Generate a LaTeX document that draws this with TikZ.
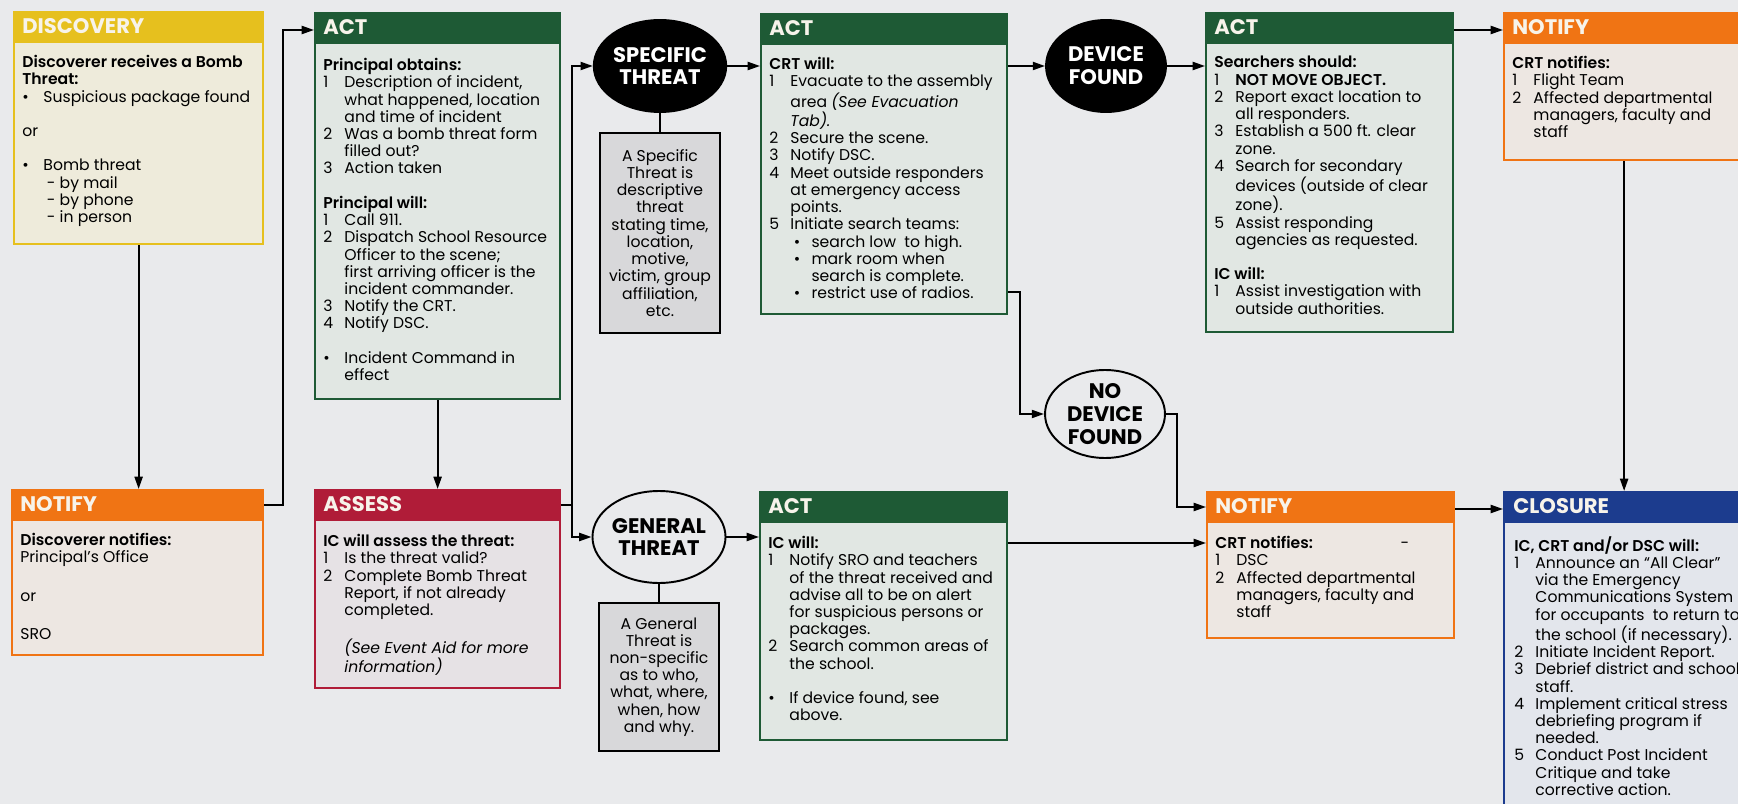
\documentclass[tikz,border=0pt]{standalone}
\usepackage{fontspec}
\setmainfont{Poppins}[BoldFont={Poppins SemiBold}, BoldItalicFont={Poppins SemiBold Italic}]
\newfontfamily\headfont{Poppins}
\usepackage{xcolor}
\usepackage{tikz}
\usetikzlibrary{positioning,shapes.geometric,arrows.meta}

\definecolor{bg}{HTML}{E9EAEC}
\definecolor{headtxt}{HTML}{F7F3EA}
\definecolor{discgold}{HTML}{E6C01E}
\definecolor{discbody}{HTML}{EEEBDB}
\definecolor{notifyorange}{HTML}{F07414}
\definecolor{notifybody}{HTML}{EDE7E2}
\definecolor{actgreen}{HTML}{1E5A35}
\definecolor{actbody}{HTML}{E1E7E3}
\definecolor{assessred}{HTML}{B01C38}
\definecolor{assessbody}{HTML}{E6E2E5}
\definecolor{closureblue}{HTML}{1C3C8E}
\definecolor{closurebody}{HTML}{E3E6EC}
\definecolor{notefill}{HTML}{D8D8DA}

\newcommand\itm[1]{\makebox[12pt][l]{#1}}
\newcommand\cnt{\hspace*{12pt}}

\begin{document}
\begin{tikzpicture}[x=0.02cm, y=-0.02cm,
  panel/.style 2 args={draw=#1, fill=#2, line width=1.3pt, anchor=north west, inner sep=0pt,
    path picture={\fill[#1] (path picture bounding box.north west) rectangle ([yshift=-0.62cm]path picture bounding box.north east);}},
  head/.style={anchor=west, inner sep=0pt, text=headtxt, font=\headfont\fontsize{12}{13}\selectfont\bfseries},
  body/.style={anchor=north west, inner sep=0pt, align=left, font=\fontsize{8.9}{9.8}\selectfont},
  threat/.style={ellipse, draw, line width=1.1pt, minimum width=2.4cm, minimum height=1.84cm,
    inner sep=0pt, align=center, font=\headfont\fontsize{12}{13}\selectfont\bfseries},
  note/.style={draw, fill=notefill, line width=1.1pt, minimum width=2.4cm, inner sep=0pt,
    align=center, font=\fontsize{8.9}{9.8}\selectfont},
  arr/.style={-{Triangle[length=7pt,width=4.6pt]}, line width=1.1pt},
  link/.style={line width=1.1pt}
]
  \useasboundingbox (0,0) rectangle (1738,804);
  \clip (0,0) rectangle (1738,804);
  \fill[bg] (0,0) rectangle (1738,804);

  % Discovery
  \node[panel={discgold}{discbody}, minimum width=4.98cm, minimum height=4.64cm] (disc) at (13,11) {};
  \node[head] (disc-h) at ([xshift=0.18cm, yshift=-0.31cm]disc.north west) {DISCOVERY};
  \node[body] (disc-t) at ([xshift=0.18cm, yshift=-0.88cm]disc.north west) {
    \textbf{Discoverer receives a Bomb}\\
    \textbf{Threat:}\\
    \itm{\textbullet}Suspicious package found\\[9.8pt]
    or\\[9.8pt]
    \itm{\textbullet}Bomb threat\\
    \cnt\hspace*{2pt}- by mail\\
    \cnt\hspace*{2pt}- by phone\\
    \cnt\hspace*{2pt}- in person};

  % Notify (discoverer)
  \node[panel={notifyorange}{notifybody}, minimum width=5.02cm, minimum height=3.3cm] (notif1) at (11,489) {};
  \node[head] (notif1-h) at ([xshift=0.18cm, yshift=-0.31cm]notif1.north west) {NOTIFY};
  \node[body] (notif1-t) at ([xshift=0.18cm, yshift=-0.88cm]notif1.north west) {
    \textbf{Discoverer notifies:}\\
    Principal’s Office\\[12pt]
    or\\[12pt]
    SRO};

  % Act (principal)
  \node[panel={actgreen}{actbody}, minimum width=4.9cm, minimum height=7.72cm] (act1) at (314,12) {};
  \node[head] (act1-h) at ([xshift=0.18cm, yshift=-0.31cm]act1.north west) {ACT};
  \node[body] (act1-t) at ([xshift=0.18cm, yshift=-0.92cm]act1.north west) {
    \textbf{Principal obtains:}\\
    \itm{1}Description of incident,\\
    \cnt what happened, location\\
    \cnt and time of incident\\
    \itm{2}Was a bomb threat form\\
    \cnt filled out?\\
    \itm{3}Action taken\\[9.8pt]
    \textbf{Principal will:}\\
    \itm{1}Call 911.\\
    \itm{2}Dispatch School Resource\\
    \cnt Officer to the scene;\\
    \cnt first arriving officer is the\\
    \cnt incident commander.\\
    \itm{3}Notify the CRT.\\
    \itm{4}Notify DSC.\\[9.8pt]
    \itm{\textbullet}Incident Command in\\
    \cnt effect};

  % Assess
  \node[panel={assessred}{assessbody}, minimum width=4.9cm, minimum height=3.96cm] (assess) at (314,489) {};
  \node[head] (assess-h) at ([xshift=0.18cm, yshift=-0.31cm]assess.north west) {ASSESS};
  \node[body] (assess-t) at ([xshift=0.18cm, yshift=-0.9cm]assess.north west) {
    \textbf{IC will assess the threat:}\\
    \itm{1}Is the threat valid?\\
    \itm{2}Complete Bomb Threat\\
    \cnt Report, if not already\\
    \cnt completed.\\[9.8pt]
    \cnt\textit{(See Event Aid for more}\\
    \cnt\textit{information)}};

  % Threat types
  \node[threat, fill=black, text=white] (spec) at (660,66) {SPECIFIC\\THREAT};
  \node[note, minimum height=4cm, below=0.38cm of spec] (specnote) {A Specific\\Threat is\\descriptive\\threat\\stating time,\\location,\\motive,\\victim, group\\affiliation,\\etc.};
  \node[threat, fill=bg] (gen) at (659,537) {GENERAL\\THREAT};
  \node[note, minimum height=2.96cm, below=0.36cm of gen] (gennote) {A General\\Threat is\\non-specific\\as to who,\\what, where,\\when, how\\and why.};

  % Act (CRT)
  \node[panel={actgreen}{actbody}, minimum width=4.92cm, minimum height=6cm] (act2) at (760,13) {};
  \node[head] (act2-h) at ([xshift=0.18cm, yshift=-0.31cm]act2.north west) {ACT};
  \node[body] (act2-t) at ([xshift=0.18cm, yshift=-0.88cm]act2.north west) {
    \textbf{CRT will:}\\
    \itm{1}Evacuate to the assembly\\
    \cnt area \textit{(See Evacuation}\\
    \cnt\textit{Tab).}\\
    \itm{2}Secure the scene.\\
    \itm{3}Notify DSC.\\
    \itm{4}Meet outside responders\\
    \cnt at emergency access\\
    \cnt points.\\
    \itm{5}Initiate search teams:\\
    \cnt\itm{\hspace*{2pt}\textbullet}search low\ \ to high.\\
    \cnt\itm{\hspace*{2pt}\textbullet}mark room when\\
    \cnt\cnt search is complete.\\
    \cnt\itm{\hspace*{2pt}\textbullet}restrict use of radios.};

  % Act (IC)
  \node[panel={actgreen}{actbody}, minimum width=4.94cm, minimum height=4.96cm] (act4) at (759,491) {};
  \node[head] (act4-h) at ([xshift=0.18cm, yshift=-0.31cm]act4.north west) {ACT};
  \node[body] (act4-t) at ([xshift=0.18cm, yshift=-0.9cm]act4.north west) {
    \textbf{IC will:}\\
    \itm{1}Notify SRO and teachers\\
    \cnt of the threat received and\\
    \cnt advise all to be on alert\\
    \cnt for suspicious persons or\\
    \cnt packages.\\
    \itm{2}Search common areas of\\
    \cnt the school.\\[9.8pt]
    \itm{\textbullet}If device found, see\\
    \cnt above.};

  % Device found / not found
  \node[threat, fill=black, text=white] (dev) at (1106,66) {DEVICE\\FOUND};
  \node[threat, fill=bg, minimum height=1.76cm] (nodev) at (1105,414) {NO\\DEVICE\\FOUND};

  % Act (searchers)
  \node[panel={actgreen}{actbody}, minimum width=4.94cm, minimum height=6.38cm] (act3) at (1205,12) {};
  \node[head] (act3-h) at ([xshift=0.18cm, yshift=-0.31cm]act3.north west) {ACT};
  \node[body] (act3-t) at ([xshift=0.18cm, yshift=-0.88cm]act3.north west) {
    \textbf{Searchers should:}\\
    \itm{1}\textbf{NOT MOVE OBJECT.}\\
    \itm{2}Report exact location to\\
    \cnt all responders.\\
    \itm{3}Establish a 500 ft. clear\\
    \cnt zone.\\
    \itm{4}Search for secondary\\
    \cnt devices (outside of clear\\
    \cnt zone).\\
    \itm{5}Assist responding\\
    \cnt agencies as requested.\\[9.8pt]
    \textbf{IC will:}\\
    \itm{1}Assist investigation with\\
    \cnt outside authorities.};

  % Notify (CRT)
  \node[panel={notifyorange}{notifybody}, minimum width=4.94cm, minimum height=2.92cm] (notif2) at (1206,491) {};
  \node[head] (notif2-h) at ([xshift=0.18cm, yshift=-0.31cm]notif2.north west) {NOTIFY};
  \node[body] (notif2-t) at ([xshift=0.18cm, yshift=-0.9cm]notif2.north west) {
    \textbf{CRT notifies:}\hspace{50pt}-\\
    \itm{1}DSC\\
    \itm{2}Affected departmental\\
    \cnt managers, faculty and\\
    \cnt staff};

  \node[panel={notifyorange}{notifybody}, minimum width=4.8cm, minimum height=2.94cm] (notif3) at (1503,12) {};
  \node[head] (notif3-h) at ([xshift=0.18cm, yshift=-0.31cm]notif3.north west) {NOTIFY};
  \node[body] (notif3-t) at ([xshift=0.18cm, yshift=-0.88cm]notif3.north west) {
    \textbf{CRT notifies:}\\
    \itm{1}Flight Team\\
    \itm{2}Affected departmental\\
    \cnt managers, faculty and\\
    \cnt staff};

  % Closure
  \node[panel={closureblue}{closurebody}, minimum width=4.8cm, minimum height=7cm] (closure) at (1503,491) {};
  \node[head] (closure-h) at ([xshift=0.2cm, yshift=-0.31cm]closure.north west) {CLOSURE};
  \node[body] (closure-t) at ([xshift=0.22cm, yshift=-0.9cm]closure.north west) {
    \textbf{IC, CRT and/or DSC will:}\\
    \itm{1}Announce an “All Clear”\\
    \cnt via the Emergency\\
    \cnt Communications System\\
    \cnt for occupants\ \ to return to\\
    \cnt the school (if necessary).\\
    \itm{2}Initiate Incident Report.\\
    \itm{3}Debrief district and school\\
    \cnt staff.\\
    \itm{4}Implement critical stress\\
    \cnt debriefing program if\\
    \cnt needed.\\
    \itm{5}Conduct Post Incident\\
    \cnt Critique and take\\
    \cnt corrective action.};

  % Connectors
  \draw[arr] (disc.south) -- (disc.south |- notif1.north);
  \draw[arr] ([yshift=-0.32cm]notif1.north east) -- ++(0.38cm,0) |- ([yshift=-0.36cm]act1.north west);
  \draw[arr] (act1.south) -- (assess.north);
  \coordinate (split) at (572,505);
  \draw[link] ([yshift=-0.32cm]assess.north east) -- (split);
  \draw[arr] (split) |- (spec.west);
  \draw[arr] (split) |- (gen.west);
  \draw[link] (spec.south) -- (specnote.north);
  \draw[link] (gen.south) -- (gennote.north);
  \draw[arr] (spec.east) -- (spec.east -| act2.west);
  \draw[arr] (gen.east) -- (gen.east -| act4.west);
  \draw[arr] (act2.east |- dev.west) -- (dev.west);
  \draw[arr] (dev.east) -- (dev.east -| act3.west);
  \draw[arr] ([yshift=-0.36cm]act3.north east) -- ([yshift=-0.36cm]notif3.north west);
  \draw[arr] ([yshift=0.46cm]act2.south east) -- ++(0.24cm,0) |- (nodev.west);
  \draw[arr] (nodev.east) -- ++(0.22cm,0) |- ([yshift=-0.32cm]notif2.north west);
  \draw[arr] ([yshift=-1.04cm]act4.north east) -- ([yshift=-1.04cm]notif2.north west);
  \draw[arr] ([yshift=-0.36cm]notif2.north east) -- ([yshift=-0.36cm]closure.north west);
  \draw[arr] (notif3.south) -- (closure.north);
\end{tikzpicture}
\end{document}
